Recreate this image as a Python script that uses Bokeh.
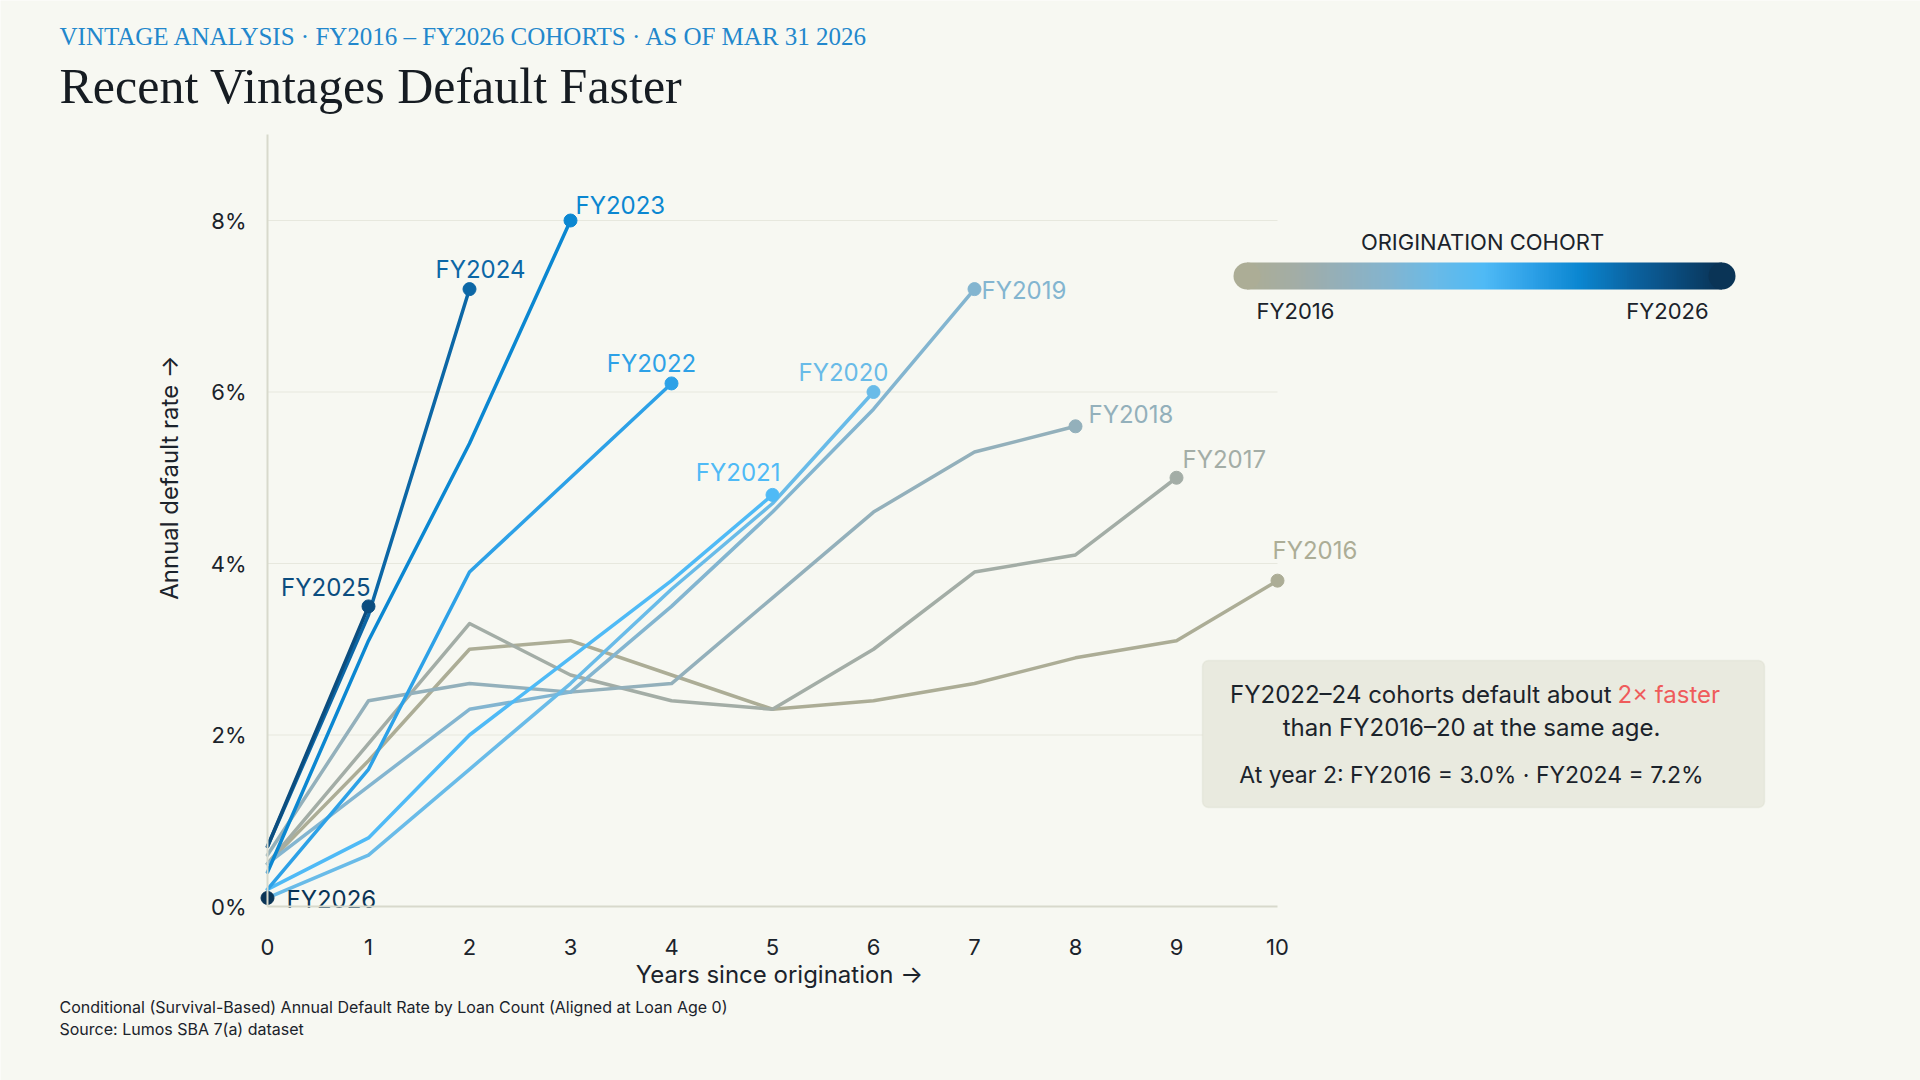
import math
import numpy as np
from bokeh.plotting import figure
from bokeh.models import (Range1d, LinearAxis, FixedTicker, Label,
                          BoxAnnotation, PrintfTickFormatter)
from bokeh.core.properties import value
from bokeh.embed import file_html
from bokeh.resources import INLINE

# ---- data: conditional annual default rate (%) by loan age (years) ----
cohorts = ["FY2016", "FY2017", "FY2018", "FY2019", "FY2020", "FY2021",
           "FY2022", "FY2023", "FY2024", "FY2025", "FY2026"]
rate_fy2016 = [0.5, 1.7, 3.0, 3.1, 2.7, 2.3, 2.4, 2.6, 2.9, 3.1, 3.8]
rate_fy2017 = [0.5, 1.9, 3.3, 2.7, 2.4, 2.3, 3.0, 3.9, 4.1, 5.0]
rate_fy2018 = [0.6, 2.4, 2.6, 2.5, 2.6, 3.6, 4.6, 5.3, 5.6]
rate_fy2019 = [0.5, 1.4, 2.3, 2.5, 3.5, 4.6, 5.8, 7.2]
rate_fy2020 = [0.1, 0.6, 1.6, 2.6, 3.7, 4.7, 6.0]
rate_fy2021 = [0.2, 0.8, 2.0, 2.9, 3.8, 4.8]
rate_fy2022 = [0.2, 1.6, 3.9, 5.0, 6.1]
rate_fy2023 = [0.4, 3.1, 5.4, 8.0]
rate_fy2024 = [0.7, 3.4, 7.2]
rate_fy2025 = [0.7, 3.5]
rate_fy2026 = [0.1]

series = [rate_fy2016, rate_fy2017, rate_fy2018, rate_fy2019, rate_fy2020,
          rate_fy2021, rate_fy2022, rate_fy2023, rate_fy2024, rate_fy2025,
          rate_fy2026]

x_ticks = list(range(0, 11))
y_ticks = [0, 2, 4, 6, 8]

# ---- styling ----
palette = ["#ACAD96", "#A3ADA6", "#93B0BB", "#83B5D0", "#69BBE8", "#4FBAF6",
           "#2DA1E7", "#0B87D1", "#0C67A6", "#0B4D7F", "#0A3456"]
BG = "#F7F8F2"
INK = "#1B232B"
SANS = "Inter"
SERIF = "Liberation Serif"

# pixel geometry of the chart area on the 1920x1080 canvas
W, H = 1920, 1080
X0_PX, PX_PER_YEAR = 267, 101.0
Y0_PX, PX_PER_PCT = 906, 85.75


def px2x(px):
    return (px - X0_PX) / PX_PER_YEAR


def px2y(py):
    return (Y0_PX - py) / PX_PER_PCT


p = figure(width=W, height=H, output_backend="svg", toolbar_location=None,
           title=None, x_axis_type=None, y_axis_type=None,
           x_range=Range1d(px2x(0), px2x(W)), y_range=Range1d(px2y(H), px2y(0)),
           min_border=0)
p.background_fill_color = BG
p.border_fill_color = BG
p.outline_line_color = None

# horizontal gridlines across the 0-10 year span
grid_y = y_ticks[1:]
p.segment(x0=[x_ticks[0]] * len(grid_y), y0=grid_y,
          x1=[x_ticks[-1]] * len(grid_y), y1=grid_y,
          line_color="#E7E8DE", line_width=1)

# axes pinned at the origin, limited to the data extent
xaxis = LinearAxis(fixed_location=0, bounds=(0, 10),
                   ticker=FixedTicker(ticks=x_ticks))
yaxis = LinearAxis(fixed_location=0, bounds=(0, 9),
                   ticker=FixedTicker(ticks=y_ticks),
                   formatter=PrintfTickFormatter(format="%d%%"))
for ax in (xaxis, yaxis):
    ax.axis_line_color = "#D8D9CC"
    ax.axis_line_width = 2
    ax.major_tick_line_color = None
    ax.minor_tick_line_color = None
    ax.major_tick_in = 0
    ax.major_tick_out = 0
    ax.major_label_text_font = SANS
    ax.major_label_text_font_size = "22px"
    ax.major_label_text_color = INK
xaxis.major_label_standoff = 32
yaxis.major_label_standoff = 21
p.add_layout(xaxis, "below")
p.add_layout(yaxis, "left")

# ---- cohort lines, end markers and labels ----
# (align, dx, dy): label offset in pixels from the last point, dy downwards
label_style = {
    "FY2016": ("left", -5, -30),
    "FY2017": ("left", 6, -18),
    "FY2018": ("left", 13, -12),
    "FY2019": ("left", 7, 1),
    "FY2020": ("center", -30, -20),
    "FY2021": ("right", 8, -22),
    "FY2022": ("center", -20, -20),
    "FY2023": ("left", 5, -15),
    "FY2024": ("center", 11, -20),
    "FY2025": ("right", 2, -19),
    "FY2026": ("left", 19, 2),
}

for name, vals, color in zip(cohorts, series, palette):
    xs = list(range(len(vals)))
    if len(vals) > 1:
        p.line(xs, vals, line_color=color, line_width=3.5,
               line_join="round", line_cap="round")
for name, vals, color in zip(cohorts, series, palette):
    xe, ye = len(vals) - 1, vals[-1]
    p.scatter([xe], [ye], size=13, fill_color=color, line_color=color)
    align, dx, dy = label_style[name]
    p.text([xe + dx / PX_PER_YEAR], [ye - dy / PX_PER_PCT], text=[name],
           text_align=align, text_baseline="middle",
           text_font=value(SANS), text_font_size="24px", text_color=color)

# ---- cohort colour legend ----
n = 256
stops = np.linspace(0, 1, len(palette))
t = np.linspace(0, 1, n)
rgb = np.array([[int(c[i:i + 2], 16) for i in (1, 3, 5)] for c in palette], float)
img = np.zeros((2, n), dtype=np.uint32)
view = img.view(dtype=np.uint8).reshape((2, n, 4))
for k in range(3):
    view[:, :, k] = np.interp(t, stops, rgb[:, k]).astype(np.uint8)
view[:, :, 3] = 255
bar_l, bar_r, bar_top, bar_bot = 1233, 1735, 262, 289
rad = (bar_bot - bar_top) / 2
p.image_rgba(image=[img], x=px2x(bar_l + rad), y=px2y(bar_bot),
             dw=(bar_r - bar_l - 2 * rad) / PX_PER_YEAR,
             dh=(bar_bot - bar_top) / PX_PER_PCT)
p.scatter([px2x(bar_l + rad), px2x(bar_r - rad)],
          [px2y(bar_top + rad)] * 2, size=2 * rad,
          fill_color=[palette[0], palette[-1]], line_color=None)


def add_text(px, py, text, size, color=INK, font=SANS, align="left",
             angle=0.0, style="normal"):
    p.add_layout(Label(x=px2x(px), y=px2y(py), text=text,
                       text_font=font, text_font_size=f"{size}px",
                       text_color=color, text_align=align,
                       text_baseline="middle", angle=angle,
                       text_font_style=style))


add_text(1482, 241, "ORIGINATION COHORT", 22, align="center")
add_text(1295, 310, cohorts[0], 22, align="center")
add_text(1667, 310, cohorts[-1], 22, align="center")

# ---- callout box ----
p.add_layout(BoxAnnotation(left=px2x(1202), right=px2x(1764),
                           top=px2y(660), bottom=px2y(807),
                           fill_color="#E9EADF", fill_alpha=1.0,
                           line_color="#D5D6C7", line_width=1.5,
                           border_radius=6))
add_text(1611, 694, "FY2022–24 cohorts default about", 24, align="right")
add_text(1617, 694, "2× faster", 24, color="#EF5B5B")
add_text(1471, 727, "than FY2016–20 at the same age.", 24, align="center")
add_text(1471, 774, "At year 2: FY2016 = 3.0% · FY2024 = 7.2%", 23, align="center")

# ---- titles, axis titles, footnotes ----
add_text(59, 35.5, "VINTAGE ANALYSIS · FY2016 – FY2026 COHORTS · AS OF MAR 31 2026",
         25, color="#2287CC", font=SERIF)
add_text(59, 85, "Recent Vintages Default Faster", 50, color="#161C22", font=SERIF)
add_text(169, 477, "Annual default rate →", 24, align="center", angle=math.pi / 2)
add_text(779, 973.5, "Years since origination →", 24, align="center")
add_text(59, 1006.5, "Conditional (Survival-Based) Annual Default Rate by Loan Count "
         "(Aligned at Loan Age 0)", 16)
add_text(59, 1028.5, "Source: Lumos SBA 7(a) dataset", 16)

open("out.html", "w").write(file_html(p, INLINE))
